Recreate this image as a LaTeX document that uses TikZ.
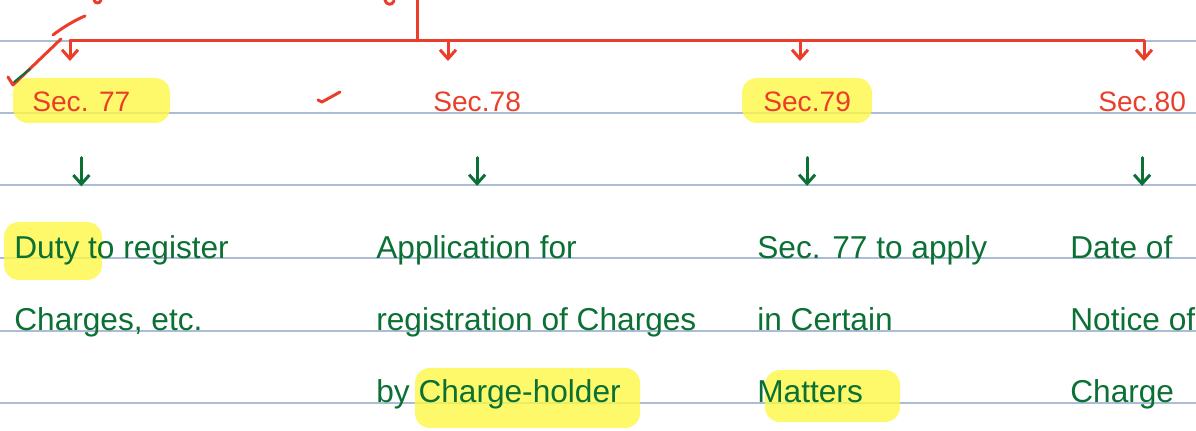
\documentclass[tikz,border=0pt]{standalone}
\usepackage{fontspec}
\newfontfamily\hand{Liberation Sans}
\usetikzlibrary{arrows.meta}
\definecolor{inkred}{RGB}{234,62,42}
\definecolor{inkgreen}{RGB}{10,112,52}
\definecolor{ruling}{RGB}{172,188,212}
\definecolor{hiyellow}{RGB}{252,248,70}

\begin{document}
\begin{tikzpicture}[x=0.2mm, y=-0.2mm,
		ruled/.style={draw=ruling, line width=0.3mm},
		redpen/.style={draw=inkred, line width=0.6mm, line cap=round, line join=round},
		greenpen/.style={draw=inkgreen, line width=0.6mm, line cap=round, line join=round},
		drop/.style={-{Straight Barb[length=1.8mm, width=3.2mm]}},
		hilite/.style={fill=hiyellow, fill opacity=0.8, rounded corners=3mm},
		sec/.style={text=inkred, font=\hand\fontsize{16}{16}\selectfont, anchor=base west, inner sep=0pt},
		note/.style={text=inkgreen, font=\hand\fontsize{18}{41.2}\selectfont, align=left, anchor=base west, inner sep=0pt}
		]
		\useasboundingbox (0,0) rectangle (1196,431);
		
		% ruled paper
		\foreach \y in {41,113,185,258,331,403}
		\draw[ruled] (0,\y) -- (1196,\y);
		
		% highlighter marks
		\fill[hilite] (13,78) rectangle (170,123);
		\fill[hilite] (742,78) rectangle (872,123);
		\fill[hilite] (4,222) rectangle (102,280);
		\fill[hilite] (415,368) rectangle (640,428);
		\fill[hilite] (765,370) rectangle (900,422);
		
		% sections
		\node[sec] (s77) at (32,112) {Sec. 77};
		\node[sec] (s78) at (433,112) {Sec.78};
		\node[sec] (s79) at (763,112) {Sec.79};
		\node[sec] (s80) at (1098,112) {Sec.80};
		
		% what each section says (placed by the baseline of the last line)
		\node[note] (d77) at (14,331) {Duty to register\\Charges, etc.};
		\node[note] (d78) at (376,403) {Application for\\registration of Charges\\by Charge-holder};
		\node[note] (d79) at (757,403) {Sec. 77 to apply\\in Certain\\Matters};
		\node[note] (d80) at (1070,403) {Date of\\Notice of\\Charge};
		
		% red branching
		\coordinate (top) at (417,0);
		\coordinate (bus) at (417,41);
		\coordinate (j77) at (70,41);
		\coordinate (j78) at (448,41);
		\coordinate (j79) at (800,41);
		\coordinate (j80) at (1144,41);
		\draw[redpen] (top) -- (bus);
		\draw[redpen] (j77) -- (j80);
		\foreach \s in {77,78,79,80}
		\draw[redpen, drop, shorten >=6.2mm] (j\s) -- (j\s |- s\s.north);
		
		% green arrows
		\foreach \s in {77,78,79,80}
		\draw[greenpen, drop, shorten <=9mm, shorten >=9.8mm] (s\s.south) -- (s\s.south |- d\s.north);
		
		% ticks and stray strokes
		\draw[redpen] (8,77) -- (13,85) -- (61,39);
		\draw[redpen] (53,35) .. controls (62,28) and (75,20) .. (85,16);
		\draw[greenpen, line width=0.4mm] (14,82) -- (30,69);
		\draw[redpen] (318,100) -- (322,102) -- (340,92);
		\draw[redpen] (94,0) .. controls (95,4) and (100,4) .. (101,0);
		\draw[redpen] (385,0) .. controls (386,5) and (392,6) .. (394,1);
\end{tikzpicture}
\end{document}
